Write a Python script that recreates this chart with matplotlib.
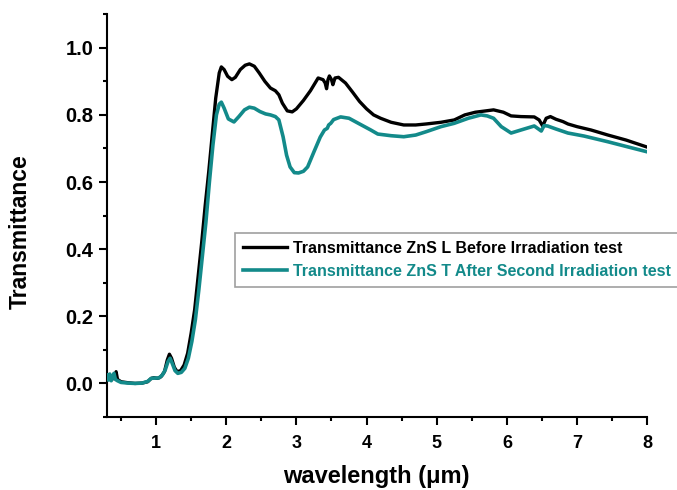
import matplotlib

matplotlib.use("Agg")
import matplotlib.pyplot as plt
from matplotlib.ticker import MultipleLocator

# wavelength (um) and transmittance
before_x = [0.30, 0.33, 0.36, 0.39, 0.41, 0.43, 0.45, 0.50, 0.60, 0.70, 0.80,
            0.88, 0.93, 0.97, 1.02, 1.07, 1.12, 1.16, 1.19, 1.22, 1.26, 1.30,
            1.35, 1.40, 1.45, 1.50, 1.55, 1.60, 1.65, 1.70, 1.75, 1.80, 1.85,
            1.90, 1.93, 1.97, 2.02, 2.08, 2.13, 2.20, 2.27, 2.33, 2.40, 2.47,
            2.55, 2.63, 2.70, 2.75, 2.80, 2.87, 2.94, 3.00, 3.10, 3.20, 3.31,
            3.38, 3.41, 3.43, 3.45, 3.47, 3.50, 3.52, 3.55, 3.60, 3.70, 3.80,
            3.90, 4.00, 4.10, 4.20, 4.35, 4.53, 4.70, 4.85, 5.06, 5.25, 5.40,
            5.55, 5.70, 5.81, 5.95, 6.06, 6.20, 6.39, 6.46, 6.51, 6.56, 6.62,
            6.70, 6.80, 6.87, 7.00, 7.20, 7.44, 7.70, 8.00]
before_y = [0.015, 0.020, 0.010, 0.015, 0.020, 0.035, 0.012, 0.005, 0.002,
            0.000, 0.001, 0.005, 0.015, 0.017, 0.015, 0.020, 0.035, 0.070,
            0.087, 0.075, 0.048, 0.035, 0.038, 0.055, 0.090, 0.150, 0.220,
            0.320, 0.420, 0.530, 0.630, 0.740, 0.850, 0.925, 0.943, 0.935,
            0.915, 0.905, 0.912, 0.935, 0.948, 0.952, 0.945, 0.925, 0.900,
            0.880, 0.872, 0.860, 0.835, 0.812, 0.809, 0.818, 0.843, 0.872,
            0.910, 0.905, 0.895, 0.878, 0.905, 0.916, 0.905, 0.890, 0.910,
            0.912, 0.895, 0.868, 0.840, 0.818, 0.800, 0.790, 0.778, 0.770,
            0.770, 0.773, 0.778, 0.785, 0.800, 0.808, 0.812, 0.815, 0.808,
            0.797, 0.795, 0.794, 0.785, 0.767, 0.790, 0.795, 0.787, 0.780,
            0.773, 0.765, 0.755, 0.740, 0.725, 0.704]

after_x = [0.30, 0.32, 0.34, 0.36, 0.38, 0.40, 0.42, 0.45, 0.50, 0.60, 0.70,
           0.80, 0.88, 0.93, 0.98, 1.04, 1.09, 1.13, 1.17, 1.20, 1.23, 1.27,
           1.31, 1.36, 1.41, 1.46, 1.51, 1.56, 1.61, 1.66, 1.71, 1.76, 1.81,
           1.86, 1.90, 1.93, 1.97, 2.03, 2.11, 2.18, 2.26, 2.33, 2.40, 2.48,
           2.56, 2.63, 2.70, 2.75, 2.81, 2.86, 2.91, 2.97, 3.03, 3.10, 3.16,
           3.25, 3.34, 3.40, 3.44, 3.46, 3.49, 3.53, 3.63, 3.75, 3.90, 4.06,
           4.16, 4.35, 4.53, 4.70, 4.85, 5.06, 5.25, 5.45, 5.63, 5.72, 5.81,
           5.92, 6.06, 6.20, 6.39, 6.45, 6.49, 6.53, 6.58, 6.70, 6.87, 7.10,
           7.44, 7.70, 8.00]
after_y = [0.025, 0.010, 0.028, 0.008, 0.020, 0.030, 0.012, 0.008, 0.003,
           0.001, 0.000, 0.001, 0.006, 0.015, 0.016, 0.016, 0.025, 0.040,
           0.065, 0.075, 0.060, 0.038, 0.030, 0.033, 0.045, 0.075, 0.125,
           0.190, 0.280, 0.380, 0.480, 0.600, 0.710, 0.800, 0.832, 0.838,
           0.820, 0.788, 0.779, 0.795, 0.815, 0.823, 0.820, 0.810, 0.803,
           0.800, 0.795, 0.785, 0.735, 0.680, 0.645, 0.628, 0.627, 0.632,
           0.645, 0.690, 0.734, 0.755, 0.760, 0.770, 0.775, 0.786, 0.794,
           0.790, 0.773, 0.755, 0.743, 0.738, 0.735, 0.740, 0.750, 0.765,
           0.775, 0.790, 0.800, 0.797, 0.790, 0.765, 0.746, 0.755, 0.767,
           0.758, 0.752, 0.768, 0.767, 0.758, 0.746, 0.737, 0.720, 0.706,
           0.690]

LABEL_BEFORE = "Transmittance ZnS L Before Irradiation test"
LABEL_AFTER = "Transmittance ZnS T After Second Irradiation test"
TEAL = "#138a8a"

plt.rcParams.update({
    "font.family": ["Liberation Sans", "DejaVu Sans"],
    "font.weight": "bold",
    "axes.linewidth": 1.5,
})

fig = plt.figure(figsize=(6.77, 4.90), dpi=100)
ax = fig.add_axes([0.158, 0.149, 0.798, 0.822])

ax.plot(before_x, before_y, color="black", lw=2.4, label=LABEL_BEFORE,
        zorder=3)
ax.plot(after_x, after_y, color=TEAL, lw=2.6, label=LABEL_AFTER, zorder=4)

ax.set_xlim(0.3, 8.0)
ax.set_ylim(-0.1, 1.1)
ax.xaxis.set_major_locator(MultipleLocator(1))
ax.xaxis.set_minor_locator(MultipleLocator(0.5))
ax.set_yticks([0.0, 0.2, 0.4, 0.6, 0.8, 1.0])
ax.yaxis.set_minor_locator(MultipleLocator(0.1))
ax.spines[["top", "right"]].set_visible(False)
ax.tick_params(which="major", length=5.8, width=1.5)
ax.tick_params(which="minor", length=3, width=1.5)
ax.tick_params(axis="x", labelsize=13, pad=7)
ax.tick_params(axis="y", labelsize=14.5, pad=4)
for lab in ax.get_xticklabels() + ax.get_yticklabels():
    lab.set_fontweight("bold")

ax.set_xlabel("wavelength (\u03bcm)", fontsize=17, fontweight="bold")
ax.set_ylabel("Transmittance", fontsize=16.5, fontweight="bold")
ax.xaxis.set_label_coords(0.499, -0.118)
ax.yaxis.set_label_coords(-0.139, 0.46)

leg = ax.legend(loc="upper left", bbox_to_anchor=(0.237, 0.457),
                borderaxespad=0, frameon=True, fancybox=False,
                handlelength=2.75, handletextpad=0.4, labelspacing=0.5,
                borderpad=0.5, labelcolor="linecolor",
                prop={"weight": "bold", "size": 11.5})
leg.get_frame().set_edgecolor("#888888")
leg.get_frame().set_linewidth(1.2)

fig.savefig("out.png", dpi=100)
